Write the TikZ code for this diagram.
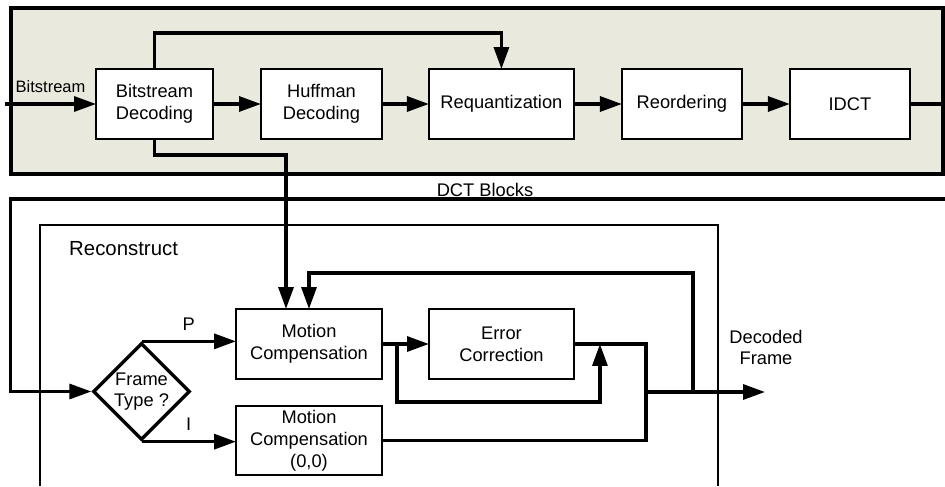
\documentclass[tikz,border=0pt]{standalone}
\usepackage{fontspec}
\setmainfont{Liberation Sans}
\usetikzlibrary{arrows.meta,positioning,shapes.geometric}
\definecolor{panelbg}{RGB}{233,233,222}

\begin{document}
\begin{tikzpicture}[x=0.02cm,y=-0.02cm,node distance=0.96cm,
  font=\fontsize{10.4}{12.4}\selectfont,
  box/.style={draw,line width=1.2pt,fill=white,minimum height=1.4cm,
    align=center,inner sep=1pt,outer sep=0pt},
  wire/.style={line width=1.9pt},
  arr/.style={wire,-{Triangle[length=12.5pt,width=8.5pt]}}]
\useasboundingbox (0,0) rectangle (945,486);

% decoding panel
\draw[line width=1.9pt,fill=panelbg] (11,8) rectangle (943,174);
\node[box,minimum width=2.34cm] (bsdec) at (154.5,104) {Bitstream\\Decoding};
\node[box,minimum width=2.42cm,right=of bsdec] (huff) {Huffman\\Decoding};
\node[box,minimum width=2.9cm,right=0.94cm of huff] (req) {Requantization};
\node[box,minimum width=2.4cm,right=of req] (reord) {Reordering};
\node[box,minimum width=2.4cm,right=of reord] (idct) {IDCT};

\coordinate (bsin) at (5,104);
\coordinate (idctout) at (945,104);
\coordinate (dctin) at (945,199);

\draw[arr] (bsin) -- (bsdec)
  node[midway,above=2pt,font=\fontsize{9.4}{11}\selectfont] {Bitstream};
\path[arr]
(bsdec) edge (huff)
(huff)  edge (req)
(req)   edge (reord)
(reord) edge (idct);
\draw[wire] (idct) -- (idctout);
\draw[arr] (bsdec.north) -- ++(0,-36) -| (req.north);

% reconstruct
\draw[line width=0.7pt] (40,486) |- (718,225) -- (718,486);
\node[anchor=west,font=\fontsize{11.6}{14}\selectfont] (reclabel) at (63,249) {Reconstruct};

\node[diamond,draw,line width=1.9pt,fill=white,minimum width=1.94cm,
  minimum height=1.94cm,inner sep=0pt,align=center] (ftype) at (141.5,391.5) {Frame\\Type ?};
\node[box,minimum width=2.92cm] (mc) at (309,344) {Motion\\Compensation};
\node[box,minimum width=2.92cm,minimum height=1.38cm] (mc0) at (309,440.5) {Motion\\Compensation\\(0,0)};
\node[box,minimum width=2.9cm,right=0.94cm of mc] (ec) {Error\\Correction};

\draw[arr] (dctin) -| ([xshift=-1.62cm]ftype.west) -- (ftype.west);
\node (dctlabel) at (485,190) {DCT Blocks};
\draw[arr] (bsdec.south) -- ++(0,16) -| ([xshift=-0.46cm]mc.north);

\draw[arr] (ftype.north) -- (ftype.north -| mc.west) node[midway,above=2pt] {P};
\draw[arr] (ftype.south) -- (ftype.south -| mc0.west) node[midway,above=2pt] {I};

\coordinate (split) at ([xshift=0.3cm]mc.east);
\coordinate (join) at ([xshift=0.52cm]ec.east);
\coordinate (mrg) at ([xshift=1.44cm]ec.east);
\coordinate (fb) at (693,392);
\coordinate (dec) at (765,392);

\draw[arr] (mc) -- (ec);
\draw[arr] (split) -- ++(0,58) -| (join);
\draw[wire] (ec.east) -- (mrg) |- (mc0.east);
\draw[arr] (mrg |- dec) -- (dec);
\draw[arr] (fb) |- ([yshift=0.72cm]mc.north) -- (mc.north);
\node[align=center] (declabel) at (766,347.5) {Decoded\\Frame};
\end{tikzpicture}
\end{document}
